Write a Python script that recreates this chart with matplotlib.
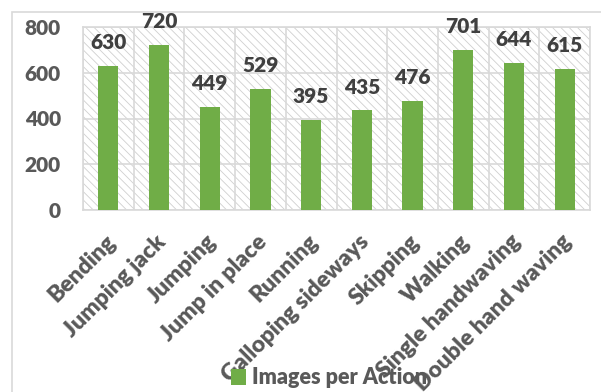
import matplotlib.pyplot as plt
import matplotlib.transforms as mtransforms
from matplotlib.patches import Rectangle

# action categories and image counts
actions = ["Bending", "Jumping jack", "Jumping", "Jump in place", "Running",
           "Galloping sideways", "Skipping", "Walking", "Single handwaving",
           "Double hand waving"]
images = [630, 720, 449, 529, 395, 435, 476, 701, 644, 615]
yticks = [0, 200, 400, 600, 800]

green = "#70AD47"
grid_gray = "#d9d9d9"
text_gray = "#595959"
label_dark = "#404040"
heavy = 800

plt.rcParams["font.family"] = ["Lato", "DejaVu Sans"]
plt.rcParams["hatch.linewidth"] = 0.6
plt.rcParams["hatch.color"] = "#cfcfcf"

fig = plt.figure(figsize=(6.01, 3.92), dpi=100)
ax = fig.add_axes([83 / 601, 1 - 210 / 392, (590 - 83) / 601, (210 - 27) / 392])

# outer chart border
fig.patches.append(Rectangle((12 / 601, -0.01), 1.0, 1 - 12 / 392 + 0.01,
                             transform=fig.transFigure, fill=False,
                             edgecolor=grid_gray, linewidth=1.2, zorder=0))

# hatched plot background
ax.add_patch(Rectangle((0, 0), 1, 1, transform=ax.transAxes, facecolor="white",
                       hatch="\\\\\\\\", edgecolor="#d0d0d0", linewidth=0, zorder=0))

x = list(range(len(actions)))
bars = ax.bar(x, images, width=0.4, color=green, zorder=3, label="Images per Action")

ax.set_xlim(-0.5, len(actions) - 0.5)
ax.set_ylim(0, 800)
ax.set_yticks(yticks)
ax.set_yticklabels([str(v) for v in yticks], fontsize=15, fontweight=heavy, color=text_gray)

# horizontal grid + category separators
for v in yticks:
    ax.axhline(v, color=grid_gray, linewidth=1.2, zorder=1)
for i in range(len(actions) + 1):
    ax.axvline(i - 0.5, color=grid_gray, linewidth=1.2, zorder=1)

ax.set_xticks(x)
ax.set_xticklabels(actions, rotation=45, ha="right", va="top", rotation_mode="anchor",
                   fontsize=16.5, fontweight=heavy, color=text_gray)
ax.tick_params(axis="y", length=0, pad=16)
ax.tick_params(axis="x", length=0, pad=15)
shift = mtransforms.ScaledTranslation(-4 / 100, 0, fig.dpi_scale_trans)
for lbl in ax.get_xticklabels():
    lbl.set_transform(lbl.get_transform() + shift)

for s in ax.spines.values():
    s.set_color(grid_gray)
    s.set_linewidth(1.2)

for rect, v in zip(bars, images):
    ax.annotate(str(v), (rect.get_x() + rect.get_width() / 2, v),
                xytext=(0, 10), textcoords="offset points", ha="center", va="bottom",
                fontsize=15, fontweight=heavy, color=label_dark, zorder=4)

fig.legend(handles=[bars], labels=["Images per Action"], loc="center",
           bbox_to_anchor=(329 / 601, 1 - 378 / 392), frameon=False, handlelength=0.7,
           handleheight=0.7, handletextpad=0.3, prop={"size": 15.5, "weight": heavy},
           labelcolor=text_gray)

fig.savefig("out.png", dpi=100)
